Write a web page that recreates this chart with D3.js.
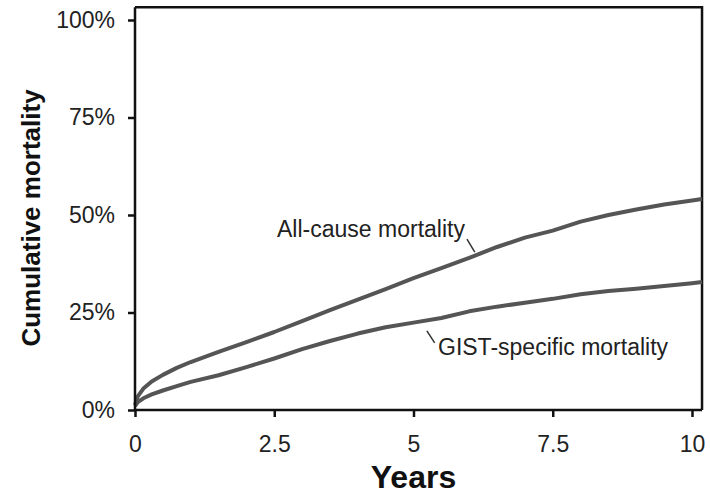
<!DOCTYPE html>
<html>
<head>
<meta charset="utf-8">
<script src="https://cdn.jsdelivr.net/npm/d3@7/dist/d3.min.js"></script>
<style>
  body { margin: 0; background: #fff; }
  svg { display: block; font-family: "Liberation Sans", Arial, sans-serif; }
</style>
</head>
<body>
<div id="container"></div>
<script>
// years since diagnosis
const years = [0, 0.05, 0.15, 0.3, 0.5, 0.75, 1, 1.5, 2, 2.5, 3, 3.5, 4, 4.5, 5, 5.5, 6, 6.5, 7, 7.5, 8, 8.5, 9, 9.5, 10, 10.18]
// cumulative mortality (%)
const allCause = [1.3, 3.5, 5.5, 7.3, 9, 10.8, 12.3, 14.9, 17.4, 20, 22.8, 25.6, 28.3, 31, 33.8, 36.4, 39, 41.8, 44.2, 46, 48.3, 50, 51.4, 52.7, 53.7, 54.1]
const gistSpecific = [1, 2, 3, 4, 5, 6.1, 7.2, 8.9, 11, 13.2, 15.6, 17.7, 19.6, 21.2, 22.4, 23.6, 25.3, 26.5, 27.5, 28.5, 29.7, 30.5, 31.1, 31.8, 32.5, 32.8]

const xTicks = [0, 2.5, 5, 7.5, 10]
const yTicks = [0, 25, 50, 75, 100]

const labels = [
  {text: 'All-cause mortality', tx: 2.55, ty: 44.4, from: [5.96, 43.8], to: [6.1, 40.5]},
  {text: 'GIST-specific mortality', tx: 5.44, ty: 14, from: [5.24, 20.3], to: [5.38, 17.2]}
]

const width = 710
const height = 498

const x = d3.scaleLinear().domain([0, 10]).range([135, 692])
const y = d3.scaleLinear().domain([0, 100]).range([410, 20])
const xEnd = 10.18
const yTop = 103.3

const svg = d3.select('#container').append('svg')
  .attr('width', width)
  .attr('height', height)

// frame top + right
svg.append('path')
  .attr('d', `M${x(0)},${y(yTop)}H${x(xEnd)}V${y(0)}`)
  .attr('fill', 'none')
  .attr('stroke', '#111')
  .attr('stroke-width', 2.5)

const line = d3.line()
  .x((d, i) => x(years[i]))
  .y(d => y(d))
  .curve(d3.curveLinear)

;[allCause, gistSpecific].forEach(s => {
  svg.append('path')
    .datum(s)
    .attr('d', line)
    .attr('fill', 'none')
    .attr('stroke', '#555')
    .attr('stroke-width', 4)
    .attr('stroke-linejoin', 'round')
})

const xAxis = d3.axisBottom(x).tickValues(xTicks).tickSize(7).tickPadding(19)
  .tickFormat(d => d3.format('')(d))
const yAxis = d3.axisLeft(y).tickValues(yTicks).tickSize(7).tickPadding(13)
  .tickFormat(d => d + '%')

const gx = svg.append('g')
  .attr('transform', `translate(0, ${y(0)})`)
  .call(xAxis)
gx.select('.domain').attr('d', `M${x(0)},0H${x(xEnd)}`)

const gy = svg.append('g')
  .attr('transform', `translate(${x(0)}, 0)`)
  .call(yAxis)
gy.select('.domain').attr('d', `M0,${y(0)}V${y(yTop)}`)

;[gx, gy].forEach(g => {
  g.select('.domain').attr('stroke', '#111').attr('stroke-width', 2.5)
  g.selectAll('.tick line').attr('stroke', '#111').attr('stroke-width', 2.5)
  g.selectAll('.tick text')
    .attr('font-size', 23)
    .attr('fill', '#222')
    .attr('font-family', '"Liberation Sans", Arial, sans-serif')
})

// titles
svg.append('text')
  .attr('x', x(5))
  .attr('y', 488)
  .attr('text-anchor', 'middle')
  .attr('font-size', 32)
  .attr('font-weight', 'bold')
  .attr('fill', '#111')
  .text('Years')

svg.append('text')
  .attr('transform', `translate(40, ${y(50) + 3}) rotate(-90)`)
  .attr('text-anchor', 'middle')
  .attr('font-size', 26)
  .attr('font-weight', 'bold')
  .attr('fill', '#111')
  .text('Cumulative mortality')

// curve labels
labels.forEach(l => {
  svg.append('text')
    .attr('x', x(l.tx))
    .attr('y', y(l.ty))
    .attr('font-size', 23)
    .attr('fill', '#222')
    .text(l.text)
  svg.append('line')
    .attr('x1', x(l.from[0])).attr('y1', y(l.from[1]))
    .attr('x2', x(l.to[0])).attr('y2', y(l.to[1]))
    .attr('stroke', '#333')
    .attr('stroke-width', 1.5)
})
</script>
</body>
</html>
